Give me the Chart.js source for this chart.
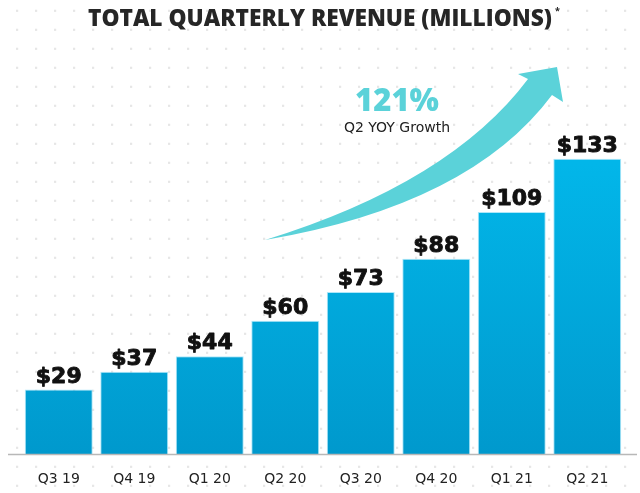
<!DOCTYPE html>
<html>
<head>
<meta charset="utf-8">
<script src="https://cdn.jsdelivr.net/npm/chart.js@4/dist/chart.umd.min.js"></script>
<style>
  html, body { margin: 0; padding: 0; background: #fff; }
  #chart { display: block; }
</style>
</head>
<body>
<canvas id="chart" width="640" height="493"></canvas>
<script>
// Datos del gráfico
const quarters = ["Q3 19", "Q4 19", "Q1 20", "Q2 20", "Q3 20", "Q4 20", "Q1 21", "Q2 21"];
const revenue = [29, 37, 44, 60, 73, 88, 109, 133];
const valueLabels = ["$29", "$37", "$44", "$60", "$73", "$88", "$109", "$133"];
const chartTitle = "TOTAL QUARTERLY REVENUE (MILLIONS)";
const growthValue = "121%";
const growthText = "Q2 YOY Growth";

const teal = "#5BD2D9";

// gradiente de las barras
function barGradient(context) {
  const chart = context.chart;
  const area = chart.chartArea;
  if (!area) return "#00AADD";
  const y0 = chart.scales.y.getPixelForValue(0);
  const g = chart.ctx.createLinearGradient(0, y0 - 290, 0, y0);
  g.addColorStop(0, "#02B6E9");
  g.addColorStop(1, "#0099CD");
  return g;
}

// fondo con puntos
const dotsBackground = {
  id: "dotsBackground",
  beforeDraw(chart) {
    const ctx = chart.ctx;
    ctx.save();
    ctx.fillStyle = "#fff";
    ctx.fillRect(0, 0, chart.width, chart.height);
    ctx.fillStyle = "#e6e6e6";
    for (let x = 17; x < chart.width; x += 19) {
      for (let y = 10.7; y < chart.height; y += 19) {
        ctx.fillRect(x - 1, y - 1, 2.2, 2.2);
      }
    }
    ctx.restore();
  }
};

// titulo, flecha, etiquetas
const decorations = {
  id: "decorations",
  afterDatasetsDraw(chart) {
    const ctx = chart.ctx;
    const y0 = chart.scales.y.getPixelForValue(0);
    ctx.save();

    // linea base
    ctx.strokeStyle = "#b8b8b8";
    ctx.lineWidth = 1.5;
    ctx.beginPath();
    ctx.moveTo(8, y0 + 0.5);
    ctx.lineTo(637, y0 + 0.5);
    ctx.stroke();

    // valores sobre las barras
    const meta = chart.getDatasetMeta(0);
    ctx.fillStyle = "#111";
    ctx.strokeStyle = "#111";
    ctx.lineWidth = 0.9;
    ctx.lineJoin = "round";
    ctx.font = "bold 22px 'DejaVu Sans'";
    ctx.textAlign = "center";
    ctx.textBaseline = "alphabetic";
    meta.data.forEach((bar, i) => {
      ctx.fillText(valueLabels[i], bar.x, bar.y - 7);
      ctx.strokeText(valueLabels[i], bar.x, bar.y - 7);
    });

    // flecha curva
    ctx.fillStyle = teal;
    ctx.beginPath();
    ctx.moveTo(265, 240);
    ctx.quadraticCurveTo(450, 183, 528, 79);
    ctx.lineTo(518, 74);
    ctx.lineTo(557, 67);
    ctx.lineTo(563, 102);
    ctx.lineTo(552, 95);
    ctx.quadraticCurveTo(470, 205, 265, 240);
    ctx.closePath();
    ctx.fill();

    // texto de crecimiento
    ctx.fillStyle = teal;
    ctx.font = "800 31px 'Open Sans'";
    ctx.fillText(growthValue, 397, 111);
    ctx.fillStyle = "#222";
    ctx.font = "14px 'DejaVu Sans'";
    ctx.fillText(growthText, 397, 132);

    // titulo
    ctx.fillStyle = "#262626";
    let size = 24;
    ctx.font = "800 " + size + "px 'Open Sans'";
    const w = ctx.measureText(chartTitle).width;
    size = size * 464 / w;
    ctx.font = "800 " + size.toFixed(2) + "px 'Open Sans'";
    ctx.textAlign = "left";
    ctx.fillText(chartTitle, 88, 26);
    ctx.font = "bold 9px 'Open Sans'";
    ctx.fillText("*", 555, 14);

    ctx.restore();
  }
};

new Chart(document.getElementById("chart"), {
  type: "bar",
  data: {
    labels: quarters,
    datasets: [{
      data: revenue,
      backgroundColor: barGradient,
      borderColor: "rgba(120,215,245,0.6)",
      borderWidth: 1,
      categoryPercentage: 0.9,
      barPercentage: 1.0
    }]
  },
  options: {
    responsive: false,
    animation: false,
    devicePixelRatio: 1,
    layout: { padding: { left: 21, right: 15, top: 10, bottom: 0 } },
    plugins: {
      legend: { display: false },
      title: { display: false },
      tooltip: { enabled: false }
    },
    scales: {
      x: {
        grid: { display: false },
        border: { display: false },
        afterFit(axis) { axis.height = 39; },
        ticks: {
          color: "#222",
          font: { family: "'DejaVu Sans'", size: 14 },
          padding: 9,
          maxRotation: 0
        }
      },
      y: {
        display: false,
        min: 0,
        max: 200
      }
    }
  },
  plugins: [dotsBackground, decorations]
});
</script>
</body>
</html>
